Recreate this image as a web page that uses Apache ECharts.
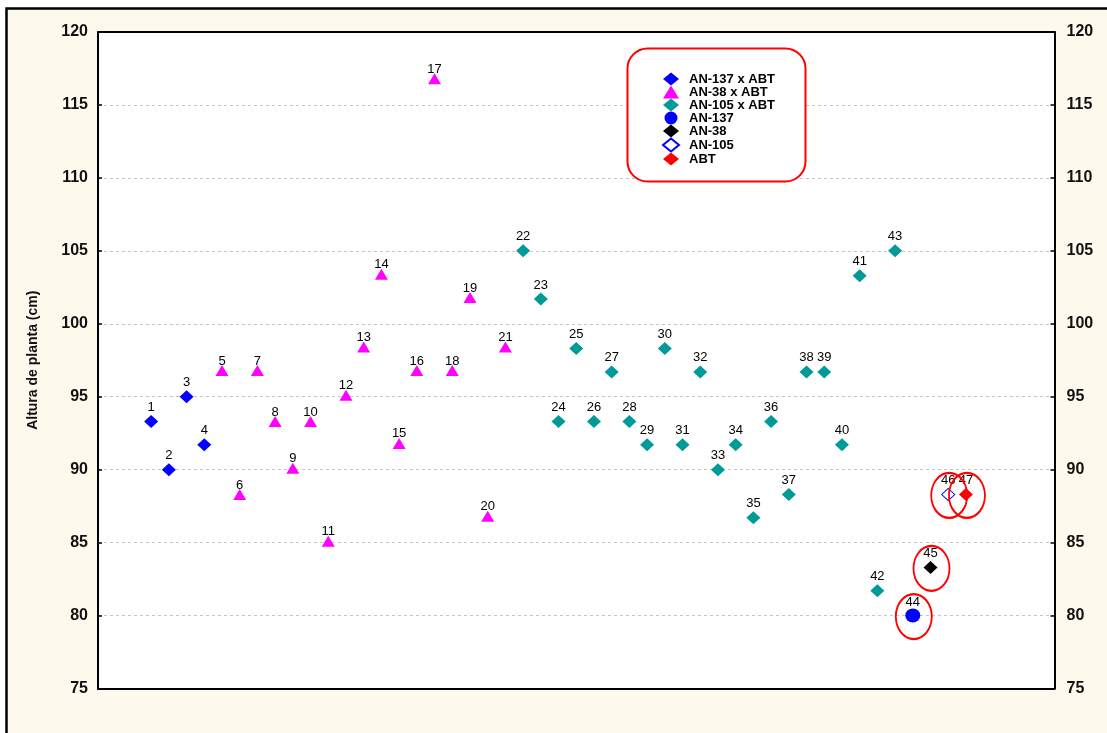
<!DOCTYPE html>
<html>
<head>
<meta charset="utf-8">
<script src="https://cdn.jsdelivr.net/npm/echarts@6/dist/echarts.min.js"></script>
<style>
  html, body { margin: 0; padding: 0; background: #ffffff; }
  #chart { width: 1107px; height: 733px; }
</style>
</head>
<body>
<div id="chart"></div>
<script>
// Plant height (cm) per genotype / cross, numbered 1..47
const seriesNames = ['AN-137 x ABT', 'AN-38 x ABT', 'AN-105 x ABT', 'AN-137', 'AN-38', 'AN-105', 'ABT'];

const idsAN137xABT = [1, 2, 3, 4];
const heightAN137xABT = [93.3, 90.0, 95.0, 91.7];

const idsAN38xABT = [5, 6, 7, 8, 9, 10, 11, 12, 13, 14, 15, 16, 17, 18, 19, 20, 21];
const heightAN38xABT = [96.8, 88.3, 96.8, 93.3, 90.1, 93.3, 85.1, 95.1, 98.4, 103.4, 91.8, 96.8, 116.8, 96.8, 101.8, 86.8, 98.4];

const idsAN105xABT = [22, 23, 24, 25, 26, 27, 28, 29, 30, 31, 32, 33, 34, 35, 36, 37, 38, 39, 40, 41, 42, 43];
const heightAN105xABT = [105.0, 101.7, 93.3, 98.3, 93.3, 96.7, 93.3, 91.7, 98.3, 91.7, 96.7, 90.0, 91.7, 86.7, 93.3, 88.3, 96.7, 96.7, 91.7, 103.3, 81.7, 105.0];

const idsAN137 = [44];
const heightAN137 = [80.0];
const idsAN38 = [45];
const heightAN38 = [83.3];
const idsAN105 = [46];
const heightAN105 = [88.3];
const idsABT = [47];
const heightABT = [88.3];

const yMin = 75, yMax = 120, yStep = 5;
const xMin = -2, xMax = 52;

const FONT = '"Liberation Sans", Arial, Helvetica, sans-serif';

const pairs = (ids, hs) => ids.map((id, i) => [id, hs[i]]);

const pointLabel = (distance) => ({
  show: true,
  position: 'top',
  distance: distance,
  formatter: p => String(p.value[0]),
  fontFamily: FONT,
  fontSize: 13,
  color: '#000000'
});

const scatter = (name, data, symbol, size, itemStyle, labelDistance) => ({
  name: name,
  type: 'scatter',
  data: data,
  symbol: symbol,
  symbolSize: size,
  itemStyle: Object.assign({ opacity: 1 }, itemStyle),
  label: pointLabel(labelDistance),
  emphasis: { disabled: true },
  z: 3
});

// parental lines are circled in red
const circledData = [].concat(
  pairs(idsAN137, heightAN137),
  pairs(idsAN38, heightAN38),
  pairs(idsAN105, heightAN105),
  pairs(idsABT, heightABT)
);

const chart = echarts.init(document.getElementById('chart'), null, { renderer: 'canvas' });

const yAxisBase = {
  type: 'value',
  min: yMin,
  max: yMax,
  interval: yStep,
  axisLine: { show: true, onZero: false, lineStyle: { color: '#000000', width: 2 } },
  axisTick: { show: true, inside: true, length: 4, lineStyle: { color: '#000000', width: 1.5 } },
  axisLabel: { fontFamily: FONT, fontSize: 16, fontWeight: 'bold', color: '#111111' }
};

chart.setOption({
  animation: false,
  backgroundColor: 'transparent',
  graphic: [
    {
      type: 'rect',
      z: -1,
      shape: { x: 6.5, y: 8.5, width: 1200, height: 800 },
      style: { fill: '#fef9ed', stroke: '#000000', lineWidth: 2.5 },
      silent: true
    },
    {
      type: 'rect',
      z: 1,
      shape: { x: 627.5, y: 48.5, width: 178, height: 133, r: 20 },
      style: { fill: '#ffffff', stroke: '#ff0000', lineWidth: 2 },
      silent: true
    }
  ],
  grid: {
    show: true,
    left: 98,
    right: 52.5,
    top: 32,
    bottom: 44.5,
    backgroundColor: '#ffffff',
    borderWidth: 0
  },
  legend: {
    data: seriesNames,
    orient: 'vertical',
    left: 662,
    top: 72.5,
    padding: 0,
    itemWidth: 16,
    itemHeight: 13,
    itemGap: 0,
    selectedMode: false,
    textStyle: { fontFamily: FONT, fontSize: 13, fontWeight: 'bold', color: '#000000', lineHeight: 13, padding: [0, 0, 0, 5] },
    z: 5
  },
  xAxis: [
    {
      type: 'value', min: xMin, max: xMax, position: 'bottom',
      axisLine: { show: true, onZero: false, lineStyle: { color: '#000000', width: 2 } },
      axisTick: { show: false }, axisLabel: { show: false }, splitLine: { show: false }
    },
    {
      type: 'value', min: xMin, max: xMax, position: 'top',
      axisLine: { show: true, onZero: false, lineStyle: { color: '#000000', width: 2 } },
      axisTick: { show: false }, axisLabel: { show: false }, splitLine: { show: false }
    }
  ],
  yAxis: [
    Object.assign({}, yAxisBase, {
      position: 'left',
      name: 'Altura de planta (cm)',
      nameLocation: 'middle',
      nameGap: 58,
      nameTextStyle: { fontFamily: FONT, fontSize: 14, fontWeight: 'bold', color: '#111111' },
      axisLabel: Object.assign({}, yAxisBase.axisLabel, { margin: 10 }),
      splitLine: { show: true, lineStyle: { color: '#c4c4c4', width: 1, type: [3, 3] } }
    }),
    Object.assign({}, yAxisBase, {
      position: 'right',
      axisLabel: Object.assign({}, yAxisBase.axisLabel, { margin: 12 }),
      splitLine: { show: false }
    })
  ],
  series: [
    scatter('AN-137 x ABT', pairs(idsAN137xABT, heightAN137xABT), 'diamond', [14, 13], { color: '#0000ff' }, 1),
    scatter('AN-38 x ABT', pairs(idsAN38xABT, heightAN38xABT), 'triangle', [13, 11], { color: '#ff00ff' }, -2.5),
    scatter('AN-105 x ABT', pairs(idsAN105xABT, heightAN105xABT), 'diamond', [14, 13], { color: '#009b98' }, 1),
    scatter('AN-137', pairs(idsAN137, heightAN137), 'circle', [15, 14], { color: '#0000ff' }, 0),
    scatter('AN-38', pairs(idsAN38, heightAN38), 'diamond', [14, 13], { color: '#000000' }, 0.5),
    scatter('AN-105', pairs(idsAN105, heightAN105), 'diamond', [13, 12], { color: '#ffffff', borderColor: '#0000ff', borderWidth: 1 }, 1),
    scatter('ABT', pairs(idsABT, heightABT), 'diamond', [14, 13], { color: '#ff0000' }, 1),
    {
      name: 'circled',
      type: 'scatter',
      data: circledData,
      symbol: 'circle',
      symbolSize: [36, 45],
      symbolOffset: [1, 1],
      itemStyle: { color: 'rgba(0,0,0,0)', borderColor: '#ff0000', borderWidth: 2, opacity: 1 },
      emphasis: { disabled: true },
      silent: true,
      z: 4
    }
  ]
});
</script>
</body>
</html>
